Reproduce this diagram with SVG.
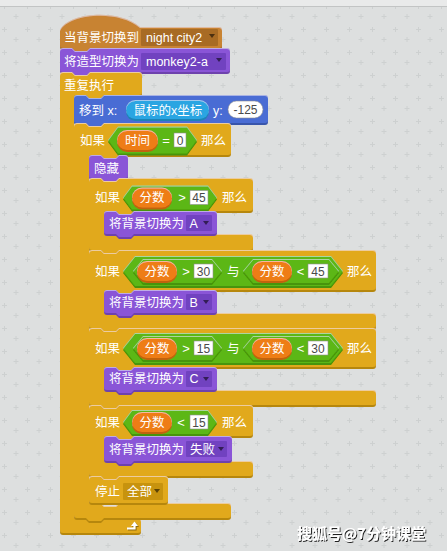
<svg xmlns="http://www.w3.org/2000/svg" width="447" height="551" viewBox="0 0 447 551">
<defs>
<style>
.ev{fill:#c88330}.lk{fill:#8a55d7}.ct{fill:#e1a91a}.mo{fill:#4a6cd4}.op{fill:#5cb712}.va{fill:#ee7d16}.se{fill:#2ca5e2}
.t{font-family:"Liberation Sans","Noto Sans CJK SC",sans-serif;font-size:12.5px;fill:#fff}
.s{font-family:"Liberation Sans",sans-serif;font-size:13px;fill:#fff;text-anchor:middle}
.c{text-anchor:middle}
.n{font-family:"Liberation Sans",sans-serif;font-size:12px;fill:#4a4a4a;text-anchor:middle}
.in{fill:#fff;stroke:#8f8f8f;stroke-width:0.6}
.dev{fill:#a86b24}.dlk{fill:#7142c0}.dct{fill:#c7930e}
.ar{fill:#000;fill-opacity:0.55}
.blk{filter:url(#bv)}
</style>
<filter id="bv" x="-5%" y="-15%" width="110%" height="135%">
<feComponentTransfer in="SourceGraphic" result="d"><feFuncR type="linear" slope="0.62"/><feFuncG type="linear" slope="0.62"/><feFuncB type="linear" slope="0.62"/></feComponentTransfer>
<feOffset in="d" dx="0" dy="1.5" result="do"/>
<feOffset in="SourceAlpha" dy="1" result="sa"/>
<feComposite in="SourceAlpha" in2="sa" operator="out" result="edge"/>
<feFlood flood-color="#fff" flood-opacity="0.35"/>
<feComposite in2="edge" operator="in" result="hl"/>
<feMerge><feMergeNode in="do"/><feMergeNode in="SourceGraphic"/><feMergeNode in="hl"/></feMerge>
</filter>
<filter id="ts" x="-5%" y="-20%" width="115%" height="150%">
<feDropShadow dx="1" dy="1" stdDeviation="0.4" flood-color="#000" flood-opacity="0.85"/>
</filter>
<pattern id="grid" patternUnits="userSpaceOnUse" width="23" height="23">
<path d="M13.5,16.5h5M16,14v5M2,6.5h5M4.5,4v5M25,6.5h5" stroke="#cdd0d0" stroke-width="1" fill="none"/>
</pattern>
</defs>
<rect width="447" height="551" fill="#dddfdf"/>
<rect width="447" height="551" fill="url(#grid)"/>
<rect width="447" height="6" fill="#e9eaea"/>
<rect y="6" width="447" height="1" fill="#c2c4c4"/>

<g id="hat">
<path class="ev blk" d="M60,45 L60,30 C68,13 118,8 140,27 L219,27 Q222,27 222,30 L222,45 Q222,48 219,48 L90,48 L87,51 L75,51 L72,48 L63,48 Q60,48 60,45 Z"/>
<text class="t" x="64" y="41.5">当背景切换到</text>
<rect class="dev" x="141" y="29" width="77" height="17" rx="1"/>
<text class="t" x="146" y="41.5">night city2</text>
<polygon class="ar" points="209,34 215,34 212,38"/>
</g>

<g id="switch-costume">
<path class="lk blk" d="M60,51 Q60,48 63,48 L72,48 L75,51 L87,51 L90,48 L227,48 Q230,48 230,51 L230,69 Q230,72 227,72 L90,72 L87,75 L75,75 L72,72 L63,72 Q60,72 60,69 Z"/>
<text class="t" x="64" y="66">将造型切换为</text>
<rect class="dlk" x="141" y="53" width="85" height="17" rx="1"/>
<text class="t" x="146" y="66">monkey2-a</text>
<polygon class="ar" points="216,58 222,58 219,62"/>
</g>

<g id="forever">
<path class="ct blk" d="M60,75 Q60,72 63,72 L72,72 L75,75 L87,75 L90,72 L139,72 Q142,72 142,75 L142,92 Q142,95 139,95 L104,95 L101,98 L89,98 L86,95 L77,95 Q74,95 74,98 L74,515 Q74,518 77,518 L86,518 L89,521 L101,521 L104,518 L138,518 Q141,518 141,521 L141,530 Q141,533 138,533 L63,533 Q60,533 60,530 Z"/>
<text class="t" x="64" y="89.5">重复执行</text>
<path d="M128,529.5 H135.5 V526" stroke="#8d6a0e" stroke-width="2.2" fill="none"/>
<polygon points="132,527 135.5,522.5 139,527" fill="#8d6a0e"/>
<path d="M127,528.5 H134.5 V525" stroke="#fff" stroke-width="2.2" fill="none"/>
<polygon points="131,526 134.5,521.5 138,526" fill="#fff"/>
</g>

<g id="goto">
<path class="mo blk" d="M74,98 Q74,95 77,95 L86,95 L89,98 L101,98 L104,95 L265,95 Q268,95 268,98 L268,120 Q268,123 265,123 L104,123 L101,126 L89,126 L86,123 L77,123 Q74,123 74,120 Z"/>
<text class="t" x="79" y="114.5">移到 x:</text>
<rect class="se blk" x="126" y="100" width="83" height="19" rx="9.5"/>
<text class="t" x="133.5" y="114.5">鼠标的x坐标</text>
<text class="t" x="213" y="114.5">y:</text>
<rect class="in" x="228" y="101" width="35" height="17" rx="8.5"/>
<text class="n" x="245.5" y="114">-125</text>
</g>

<g id="if-time">
<path class="ct blk" d="M74,126 Q74,123 77,123 L86,123 L89,126 L101,126 L104,123 L228,123 Q231,123 231,126 L231,152 Q231,155 228,155 L119,155 L116,158 L104,158 L101,155 L92,155 Q89,155 89,158 L89,500 Q89,503 92,503 L101,503 L104,506 L116,506 L119,503 L228,503 Q231,503 231,506 L231,515 Q231,518 228,518 L104,518 L101,521 L89,521 L86,518 L77,518 Q74,518 74,515 Z"/>
<text class="t" x="80" y="144.5">如果</text>
<polygon class="op blk" points="108,140 118,126.5 187,126.5 197,140 187,153.5 118,153.5"/>
<rect class="va blk" x="117" y="130" width="41" height="20" rx="10"/>
<text class="t c" x="137.5" y="144.5">时间</text>
<text class="s" x="166" y="144.5">=</text>
<rect class="in" x="174" y="133" width="12" height="14"/>
<text class="n" x="180" y="144.5">0</text>
<text class="t" x="201" y="144.5">那么</text>
</g>

<g id="hide">
<path class="lk blk" d="M89,158 Q89,155 92,155 L101,155 L104,158 L116,158 L119,155 L125,155 Q128,155 128,158 L128,175 Q128,178 125,178 L119,178 L116,181 L104,181 L101,178 L92,178 Q89,178 89,175 Z"/>
<text class="t" x="94" y="172.5">隐藏</text>
</g>

<g id="if-45">
<path class="ct blk" d="M89,181 Q89,178 92,178 L101,178 L104,181 L116,181 L119,178 L250,178 Q253,178 253,181 L253,208 Q253,211 250,211 L134,211 L131,214 L119,214 L116,211 L107,211 Q104,211 104,214 L104,231 Q104,234 107,234 L116,234 L119,237 L131,237 L134,234 L250,234 Q253,234 253,237 L253,247 Q253,250 250,250 L119,250 L116,253 L104,253 L101,250 L92,250 Q89,250 89,247 Z"/>
<text class="t" x="95" y="202">如果</text>
<polygon class="op blk" points="123,197.5 132,185.5 208,185.5 217,197.5 208,209.5 132,209.5"/>
<rect class="va blk" x="132" y="187.5" width="40" height="20" rx="10"/>
<text class="t c" x="152" y="202">分数</text>
<text class="s" x="182" y="202">&gt;</text>
<rect class="in" x="190" y="190.5" width="18" height="14"/>
<text class="n" x="199" y="202">45</text>
<text class="t" x="222" y="202">那么</text>
</g>
<g id="backdrop-A">
<path class="lk blk" d="M104,214 Q104,211 107,211 L116,211 L119,214 L131,214 L134,211 L214,211 Q217,211 217,214 L217,231 Q217,234 214,234 L134,234 L131,237 L119,237 L116,234 L107,234 Q104,234 104,231 Z"/>
<text class="t" x="109" y="228">将背景切换为</text>
<rect class="dlk" x="186" y="215" width="26" height="16" rx="1"/>
<text class="t" x="189.5" y="228">A</text>
<polygon class="ar" points="203,221 209,221 206,225"/>
</g>

<g id="if-30-45">
<path class="ct blk" d="M89,253 Q89,250 92,250 L101,250 L104,253 L116,253 L119,250 L373,250 Q376,250 376,253 L376,287 Q376,290 373,290 L134,290 L131,293 L119,293 L116,290 L107,290 Q104,290 104,293 L104,310 Q104,313 107,313 L116,313 L119,316 L131,316 L134,313 L373,313 Q376,313 376,316 L376,325 Q376,328 373,328 L119,328 L116,331 L104,331 L101,328 L92,328 Q89,328 89,325 Z"/>
<text class="t" x="95" y="275.5">如果</text>
<polygon class="op blk" points="123,271 135,256 331,256 343,271 331,286 135,286"/>
<polygon class="op blk" points="133,271 143,259 212,259 222,271 212,283 143,283"/>
<polygon class="op blk" points="243,271 253,259 329,259 339,271 329,283 253,283"/>
<rect class="va blk" x="137" y="261" width="40" height="20" rx="10"/>
<text class="t c" x="157" y="275.5">分数</text>
<text class="s" x="186" y="275.5">&gt;</text>
<rect class="in" x="194" y="264" width="19" height="14"/>
<text class="n" x="203.5" y="275.5">30</text>
<text class="t" x="227" y="275.5">与</text>
<rect class="va blk" x="252" y="261" width="40" height="20" rx="10"/>
<text class="t c" x="272" y="275.5">分数</text>
<text class="s" x="300.5" y="275.5">&lt;</text>
<rect class="in" x="308" y="264" width="20" height="14"/>
<text class="n" x="318" y="275.5">45</text>
<text class="t" x="347" y="275.5">那么</text>
</g>
<g id="backdrop-B">
<path class="lk blk" d="M104,293 Q104,290 107,290 L116,290 L119,293 L131,293 L134,290 L214,290 Q217,290 217,293 L217,310 Q217,313 214,313 L134,313 L131,316 L119,316 L116,313 L107,313 Q104,313 104,310 Z"/>
<text class="t" x="109" y="306.5">将背景切换为</text>
<rect class="dlk" x="186" y="294" width="26" height="16" rx="1"/>
<text class="t" x="189.5" y="306.5">B</text>
<polygon class="ar" points="203,300 209,300 206,304"/>
</g>

<g id="if-15-30">
<path class="ct blk" d="M89,331 Q89,328 92,328 L101,328 L104,331 L116,331 L119,328 L373,328 Q376,328 376,331 L376,364 Q376,367 373,367 L134,367 L131,370 L119,370 L116,367 L107,367 Q104,367 104,370 L104,387 Q104,390 107,390 L116,390 L119,393 L131,393 L134,390 L373,390 Q376,390 376,393 L376,402 Q376,405 373,405 L119,405 L116,408 L104,408 L101,405 L92,405 Q89,405 89,402 Z"/>
<text class="t" x="95" y="352.5">如果</text>
<polygon class="op blk" points="123,348 135,333 331,333 343,348 331,363 135,363"/>
<polygon class="op blk" points="133,348 143,336 212,336 222,348 212,360 143,360"/>
<polygon class="op blk" points="243,348 253,336 329,336 339,348 329,360 253,360"/>
<rect class="va blk" x="137" y="338" width="40" height="20" rx="10"/>
<text class="t c" x="157" y="352.5">分数</text>
<text class="s" x="186" y="352.5">&gt;</text>
<rect class="in" x="194" y="341" width="19" height="14"/>
<text class="n" x="203.5" y="352.5">15</text>
<text class="t" x="227" y="352.5">与</text>
<rect class="va blk" x="252" y="338" width="40" height="20" rx="10"/>
<text class="t c" x="272" y="352.5">分数</text>
<text class="s" x="300.5" y="352.5">&lt;</text>
<rect class="in" x="308" y="341" width="20" height="14"/>
<text class="n" x="318" y="352.5">30</text>
<text class="t" x="347" y="352.5">那么</text>
</g>
<g id="backdrop-C">
<path class="lk blk" d="M104,370 Q104,367 107,367 L116,367 L119,370 L131,370 L134,367 L214,367 Q217,367 217,370 L217,387 Q217,390 214,390 L134,390 L131,393 L119,393 L116,390 L107,390 Q104,390 104,387 Z"/>
<text class="t" x="109" y="383">将背景切换为</text>
<rect class="dlk" x="186" y="371" width="26" height="16" rx="1"/>
<text class="t" x="189.5" y="383">C</text>
<polygon class="ar" points="203,377 209,377 206,381"/>
</g>

<g id="if-15">
<path class="ct blk" d="M89,408 Q89,405 92,405 L101,405 L104,408 L116,408 L119,405 L250,405 Q253,405 253,408 L253,433 Q253,436 250,436 L134,436 L131,439 L119,439 L116,436 L107,436 Q104,436 104,439 L104,458 Q104,461 107,461 L116,461 L119,464 L131,464 L134,461 L250,461 Q253,461 253,464 L253,473 Q253,476 250,476 L119,476 L116,479 L104,479 L101,476 L92,476 Q89,476 89,473 Z"/>
<text class="t" x="95" y="426.5">如果</text>
<polygon class="op blk" points="123,422 132,410 208,410 217,422 208,434 132,434"/>
<rect class="va blk" x="132" y="412" width="40" height="20" rx="10"/>
<text class="t c" x="152" y="426.5">分数</text>
<text class="s" x="181" y="426.5">&lt;</text>
<rect class="in" x="190" y="415" width="18" height="14"/>
<text class="n" x="199" y="426.5">15</text>
<text class="t" x="222" y="426.5">那么</text>
</g>
<g id="backdrop-fail">
<path class="lk blk" d="M104,439 Q104,436 107,436 L116,436 L119,439 L131,439 L134,436 L229,436 Q232,436 232,439 L232,458 Q232,461 229,461 L134,461 L131,464 L119,464 L116,461 L107,461 Q104,461 104,458 Z"/>
<text class="t" x="109" y="454">将背景切换为</text>
<rect class="dlk" x="186" y="441" width="41" height="16" rx="1"/>
<text class="t" x="190" y="454">失败</text>
<polygon class="ar" points="218,447 224,447 221,451"/>
</g>

<g id="stop">
<path class="ct blk" d="M89,479 Q89,476 92,476 L101,476 L104,479 L116,479 L119,476 L165,476 Q168,476 168,479 L168,500 Q168,503 165,503 L92,503 Q89,503 89,500 Z"/>
<text class="t" x="95" y="496">停止</text>
<rect class="dct" x="123" y="483" width="40" height="17" rx="1"/>
<text class="t" x="127" y="496">全部</text>
<polygon class="ar" points="154,489 160,489 157,493"/>
</g>

<g id="connectors"></g>

<text x="297" y="538.5" filter="url(#ts)" style="font-family:'Noto Sans CJK SC',sans-serif;font-size:15px;font-weight:bold;fill:#fff">搜狐号@7分钟课堂</text>
</svg>
